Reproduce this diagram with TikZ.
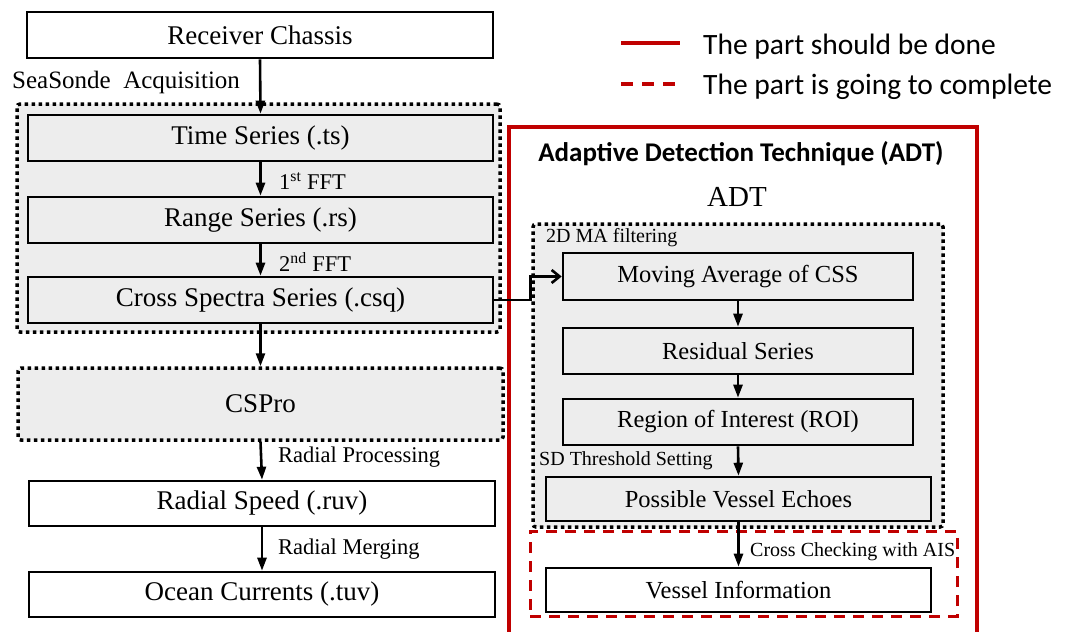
\documentclass[tikz,border=0pt]{standalone}
\usepackage{fontspec}
\setmainfont{Liberation Serif}
\newfontfamily\legfont{Carlito}
\usetikzlibrary{arrows.meta}
\definecolor{panelgray}{HTML}{EDEDED}
\definecolor{doneRed}{HTML}{C00000}
\tikzset{
  box/.style={draw=black, line width=2.6pt, fill=panelgray, inner sep=0pt,
              font=\fontsize{27}{30}\selectfont},
  wbox/.style={box, fill=white},
  rbox/.style={box, font=\fontsize{24.5}{28}\selectfont},
  rwbox/.style={rbox, fill=white},
  dotgroup/.style={draw=black, line width=3.5pt, dash pattern=on 3.5pt off 3.5pt,
                   fill=panelgray, inner sep=0pt, rounded corners=3pt},
  redgroup/.style={draw=doneRed, line width=3pt, dash pattern=on 11pt off 8pt,
                   inner sep=0pt},
  flow/.style={line width=2.6pt, -{Triangle[length=13pt,width=9pt]}},
  lbl/.style={anchor=west, inner sep=0pt, font=\fontsize{22.5}{25}\selectfont},
  rlbl/.style={anchor=west, inner sep=0pt, font=\fontsize{20}{23}\selectfont},
  legtext/.style={anchor=base west, inner sep=0pt, font=\legfont\fontsize{29.5}{32}\selectfont},
}
\begin{document}
\begin{tikzpicture}[x=1pt, y=-1pt]
\useasboundingbox (0,0) rectangle (1066,632);

% ---------- left column: SeaSonde chain ----------
\node[dotgroup, minimum width=483pt, minimum height=228pt] (acq) at (258.5,218) {};
\node[wbox, minimum width=466pt, minimum height=46pt] (rc) at (260,35) {Receiver Chassis};
\node[lbl, font=\fontsize{25}{28}\selectfont] (acqlbl) at (12,82) {SeaSonde\ \ Acquisition};
\node[box, minimum width=465pt, minimum height=46pt] (ts) at (260.5,138) {Time Series (.ts)};
\node[box, minimum width=465pt, minimum height=46pt] (rs) at (260.5,220) {Range Series (.rs)};
\node[box, minimum width=465pt, minimum height=46pt] (cs) at (260.5,300) {Cross Spectra Series (.csq)};
\node[dotgroup, minimum width=485pt, minimum height=72pt, font=\fontsize{27}{30}\selectfont] (cspro) at (260.5,404) {CSPro};
\node[wbox, minimum width=466pt, minimum height=45pt] (ruv) at (262,503.5) {Radial Speed (.ruv)};
\node[wbox, minimum width=466pt, minimum height=45pt] (tuv) at (262,594.5) {Ocean Currents (.tuv)};

\node[lbl] (fft1) at (279,181) {1\textsuperscript{st} FFT};
\node[lbl] (fft2) at (279,262) {2\textsuperscript{nd} FFT};
\node[lbl] (radproc) at (278,457) {Radial Processing};
\node[lbl] (radmerge) at (278,549) {Radial Merging};

\draw[flow] (rc.south) -- (ts.north);
\draw[flow] (ts.south) -- (rs.north);
\draw[flow] (rs.south) -- (cs.north);
\draw[flow] (cs.south) -- (cspro.north);
\draw[flow] (cspro.south) -- (ruv.north);
\draw[flow] (ruv.south) -- (tuv.north);

% ---------- right column: ADT ----------
\draw[doneRed, line width=3.5pt] (509,645) -- (509,127) -- (977,127) -- (977,645);
\node[font=\legfont\bfseries\fontsize{27}{30}\selectfont, inner sep=0pt] (adttitle) at (741,154) {Adaptive Detection Technique (ADT)};
\node[font=\fontsize{29}{32}\selectfont, inner sep=0pt] (adt) at (737,197) {ADT};

\node[dotgroup, minimum width=410pt, minimum height=303pt] (ma2d) at (738,375.5) {};
\node[rlbl] (malbl) at (546,238) {2D MA filtering};
\node[rbox, minimum width=350pt, minimum height=47pt] (mav) at (738,276.5) {Moving Average of CSS};
\node[rbox, minimum width=350pt, minimum height=46pt] (res) at (738,351) {Residual Series};
\node[rbox, minimum width=350pt, minimum height=46pt] (roi) at (738,422) {Region of Interest (ROI)};
\node[rlbl] (sdlbl) at (539,461) {SD Threshold Setting};
\node[rbox, minimum width=385pt, minimum height=44pt] (pve) at (738.5,499) {Possible Vessel Echoes};

\node[redgroup, minimum width=427pt, minimum height=85pt] (ais) at (743.5,573.5) {};
\node[rwbox, minimum width=385pt, minimum height=44pt] (vi) at (738.5,590) {Vessel Information};
\node[rlbl] (aislbl) at (750,552) {Cross Checking with AIS};

\draw[flow] (mav.south) -- (res.north);
\draw[flow] (res.south) -- (roi.north);
\draw[flow] (roi.south) -- (pve.north);
\draw[flow] (pve.south) -- (vi.north);

% link from the spectra file into the ADT chain
\draw[line width=2.6pt, -{Straight Barb[length=8pt,width=13pt]}]
  (cs.east) -- ++(36,0) |- (mav.west);

% ---------- legend ----------
\draw[doneRed, line width=4pt] (621,43) -- (680,43);
\draw[doneRed, line width=4pt, dash pattern=on 12pt off 9pt] (621,84) -- (675,84);
\node[legtext] (legdone) at (703,54) {The part should be done};
\node[legtext] (legtodo) at (703,94) {The part is going to complete};
\end{tikzpicture}
\end{document}
